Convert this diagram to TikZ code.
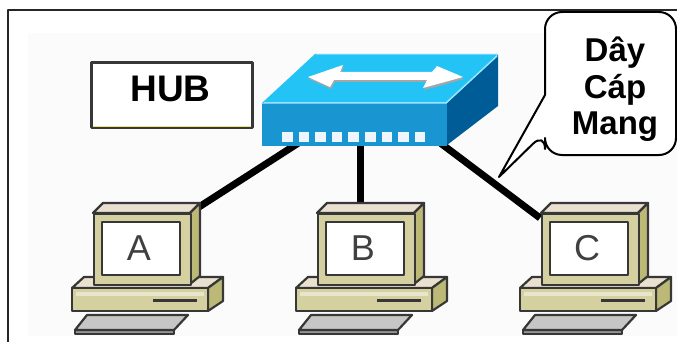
\documentclass[tikz,border=0pt]{standalone}
\usepackage{fontspec}
\setmainfont{Liberation Sans}
\usetikzlibrary{calc}

\definecolor{outline}{RGB}{55,55,55}
\definecolor{bezel}{RGB}{212,208,160}
\definecolor{bezelside}{RGB}{188,184,118}
\definecolor{bezeltop}{RGB}{234,224,208}
\definecolor{kbd}{RGB}{198,198,198}
\definecolor{hubtop}{RGB}{35,195,245}
\definecolor{hubfront}{RGB}{25,150,210}
\definecolor{hubside}{RGB}{0,92,150}
\definecolor{hubedge}{RGB}{150,228,255}
\definecolor{labelline}{RGB}{240,228,120}
\definecolor{backdrop}{RGB}{251,251,251}

\pgfdeclarelayer{backdrop}
\pgfdeclarelayer{wires}
\pgfsetlayers{backdrop,wires,main}

\begin{document}
\begin{tikzpicture}[x=1pt, y=-1pt, line join=round,
  part/.style={draw=outline, line width=2.2pt},
  cable/.style={line width=7pt, black},
  frameline/.style={line width=2pt, black!85},
  pcletter/.style={font=\fontsize{36}{36}\selectfont, text=black!75},
  pics/computer/.style={code={
    % system unit
    \filldraw[part, fill=bezeltop] (72,288) -- (84,277) -- (223,277) -- (208,288) -- cycle;
    \filldraw[part, fill=bezelside] (208,288) -- (223,277) -- (223,301) -- (208,311) -- cycle;
    \filldraw[part, fill=bezel] (72,288) rectangle (208,311);
    \fill[bezel!55!white] (76,292) rectangle (204,296);
    \draw[outline, line width=3pt] (153,300) -- (197,300);
    % keyboard
    \filldraw[part, fill=kbd!75!black] (75,330) -- (174,330) -- (174,334) -- (75,334) -- cycle;
    \filldraw[part, fill=kbd] (87,315) -- (188,315) -- (174,330) -- (75,330) -- cycle;
    % monitor
    \filldraw[part, fill=bezeltop] (93,213) -- (103,203) -- (200,203) -- (190,213) -- cycle;
    \filldraw[part, fill=bezelside] (190,213) -- (200,203) -- (200,276) -- (190,284) -- cycle;
    \node[part, fill=bezel, minimum width=97pt, minimum height=71pt, inner sep=0pt,
          anchor=north west] (-mon) at (93,213) {};
    \node[part, line width=2pt, fill=white, minimum width=78pt, minimum height=53pt,
          inner sep=0pt, pcletter] (-screen) at (141,248.5) {\hspace*{-4pt}#1};
    % cable attachment points
    \coordinate (-tr) at (199,207);
    \coordinate (-top) at (136,204);
    \coordinate (-tl) at (92,218);
  }}]

\useasboundingbox (0,0) rectangle (677,342);

% faint backdrop and frame
\begin{pgfonlayer}{backdrop}
  \fill[backdrop] (28,33) rectangle (677,336);
\end{pgfonlayer}
\draw[frameline] (8,342) -- (8,10) -- (677,10);

% computers
\pic (A) at (0,0) {computer=A};
\pic (B) at (224,0) {computer=B};
\pic (C) at (448,0) {computer=C};

% hub
\fill[hubside] (447,103) -- (498,55) -- (498,106) -- (447,145) -- cycle;
\fill[hubtop] (315,54) -- (498,54) -- (447,103) -- (262,103) -- cycle;
\draw[hubedge, line width=1.5pt] (264,103) -- (446,103) -- (497,56);
\draw[hubedge!60!hubtop, line width=1pt] (316,55) -- (497,55);
\node[fill=hubfront, minimum width=185pt, minimum height=42pt, inner sep=0pt] (hub) at (354.5,124.5) {};
\draw[hubedge!70!hubfront, line width=1pt] (hub.north west) -- (hub.north east);
% port row
\foreach \i in {0,...,8}
  \fill[white!92!hubfront] ({282+\i*16.6},132) rectangle ++(10.5,10);
% double arrow on the lid
\fill[gray!70] (309,79) -- (344,67) -- (341,74) -- (433,74) -- (438,68) -- (464,79) -- (424,90) -- (428,82) -- (335,82) -- (331,89) -- cycle;
\fill[white] (308,77) -- (343,65) -- (340,72) -- (432,72) -- (437,66) -- (463,77) -- (423,88) -- (427,80) -- (334,80) -- (330,87) -- cycle;

% hub cable attachment points
\coordinate (hub-a) at (300,142);
\coordinate (hub-b) at (360,140);
\coordinate (hub-c) at (439,142);

% cables, laid under the hub and the monitors
\begin{pgfonlayer}{wires}
  \draw[cable] (hub-a) -- (A-tr);
  \draw[cable] (hub-b) -- (B-top);
  \draw[cable] (hub-c) -- (C-tl);
\end{pgfonlayer}

% HUB label
\node[draw=outline, line width=3pt, fill=white, minimum width=161pt, minimum height=65pt,
      inner sep=0pt] (hubbox) at (171.5,95.5) {};
\draw[labelline, line width=1.6pt] ($(hubbox.south west)+(3,-3)$) -- ($(hubbox.south east)+(-3,-3)$);
\node[font=\bfseries\fontsize{37}{37}\selectfont, inner sep=0pt] (hubtext) at (170.5,88.5) {HUB};

% speech bubble
\filldraw[black, fill=white, line width=2pt] (499,177) -- (545,95)
  [rounded corners=17] -- (545,12) -- (676,12) -- (676,155) -- (545,155)
  -- (545,132) [sharp corners] -- cycle;
\node[font=\bfseries\fontsize{33}{36.5}\selectfont, align=center, inner sep=0pt,
      anchor=north] (cable-label) at (615,37) {Dây\\Cáp\\Mang};

\end{tikzpicture}
\end{document}
